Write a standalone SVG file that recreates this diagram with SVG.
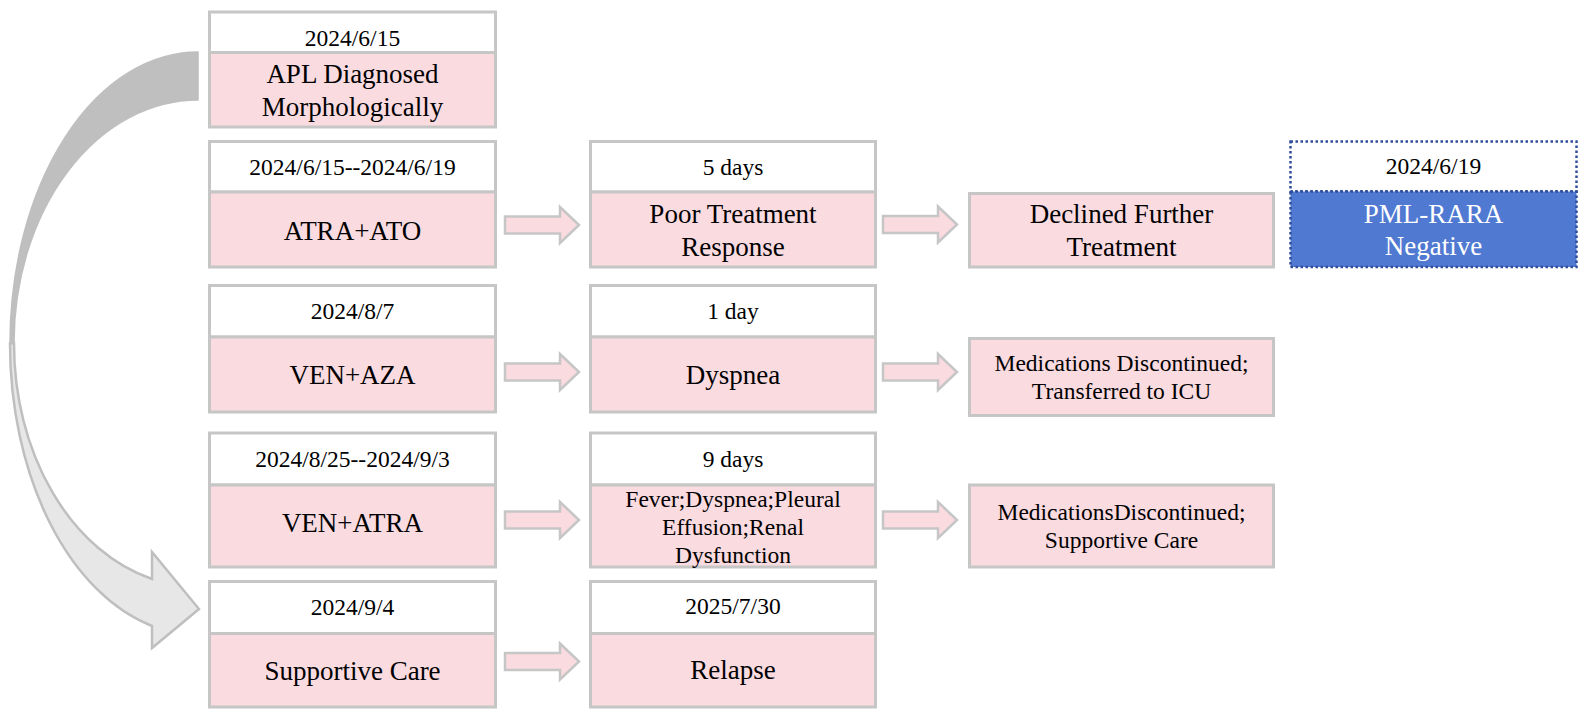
<svg xmlns="http://www.w3.org/2000/svg" width="1590" height="713" viewBox="0 0 1590 713">
<style>
.top{fill:#ffffff;stroke:#c6c6c6;stroke-width:3}
.pk{fill:#fadbe0;stroke:#c6c6c6;stroke-width:3}
.dt{font-family:"Liberation Serif","Times New Roman",serif;font-size:23.5px;fill:#000;text-anchor:middle}
.mn{font-family:"Liberation Serif","Times New Roman",serif;font-size:27px;fill:#000;text-anchor:middle}
.sm{font-family:"Liberation Serif","Times New Roman",serif;font-size:23.5px;fill:#000;text-anchor:middle}
.wt{font-family:"Liberation Serif","Times New Roman",serif;font-size:27px;fill:#ffffff;text-anchor:middle}
.dot{stroke:#2f4d9c;stroke-width:2.5;stroke-dasharray:2.5 2.5}
.arr{fill:#fadbe0;stroke:#c6c6c6;stroke-width:2.5;stroke-linejoin:miter}
</style>
<defs>
<path id="blk" d="M0,-8.5 H55 V-18 L74,0 L55,18 V8.5 H0 Z"/>
</defs>
<rect width="1590" height="713" fill="#ffffff"/>

<g id="connectors">
  <g id="curved-arrow">
    <path d="M198,52 A188 291.4 0 0 0 10,343.4 L14,343 A184 243 0 0 1 198,100 Z" fill="#bfbfbf" stroke="#bfbfbf" stroke-width="1.5"/>
    <path d="M14,343 A184 243 0 0 0 152,579 L152,552 L199,609 L152,648 L152,626 A188 291.4 0 0 1 10,343.4 Z" fill="#e7e7e7" stroke="#bfbfbf" stroke-width="2.5" stroke-linejoin="miter"/>
  </g>
  <use href="#blk" class="arr" x="505" y="225"/>
  <use href="#blk" class="arr" x="883" y="224.5"/>
  <use href="#blk" class="arr" x="505" y="372"/>
  <use href="#blk" class="arr" x="883" y="372"/>
  <use href="#blk" class="arr" x="505" y="520"/>
  <use href="#blk" class="arr" x="883" y="520"/>
  <use href="#blk" class="arr" x="505" y="661.5"/>
</g>

<g id="n-apl">
  <rect class="top" x="209.5" y="12" width="286" height="40.5"/>
  <rect class="pk" x="209.5" y="52.5" width="286" height="74.5"/>
  <text class="dt" x="352.5" y="46">2024/6/15</text>
  <text class="mn" x="352.5" y="83">APL Diagnosed</text>
  <text class="mn" x="352.5" y="116">Morphologically</text>
</g>

<g id="n-atra-ato">
  <rect class="top" x="209.5" y="141.5" width="286" height="50.5"/>
  <rect class="pk" x="209.5" y="192" width="286" height="75"/>
  <text class="dt" x="352.5" y="175">2024/6/15--2024/6/19</text>
  <text class="mn" x="352.5" y="240">ATRA+ATO</text>
</g>

<g id="n-poor-response">
  <rect class="top" x="590.5" y="141.5" width="285" height="50.5"/>
  <rect class="pk" x="590.5" y="192" width="285" height="75"/>
  <text class="dt" x="733" y="175">5 days</text>
  <text class="mn" x="733" y="223">Poor Treatment</text>
  <text class="mn" x="733" y="256">Response</text>
</g>

<g id="n-declined">
  <rect class="pk" x="969.5" y="193.5" width="304" height="73.5"/>
  <text class="mn" x="1121.5" y="223">Declined Further</text>
  <text class="mn" x="1121.5" y="256">Treatment</text>
</g>

<g id="n-pml-rara">
  <rect x="1290.5" y="141.5" width="286" height="50" fill="#ffffff" class="dot"/>
  <rect x="1290.5" y="191.5" width="286" height="75.5" fill="#5079d2" class="dot"/>
  <text class="dt" x="1433.5" y="174">2024/6/19</text>
  <text class="wt" x="1433.5" y="223">PML-RARA</text>
  <text class="wt" x="1433.5" y="255">Negative</text>
</g>

<g id="n-ven-aza">
  <rect class="top" x="209.5" y="285.5" width="286" height="51.5"/>
  <rect class="pk" x="209.5" y="337" width="286" height="75"/>
  <text class="dt" x="352.5" y="319">2024/8/7</text>
  <text class="mn" x="352.5" y="384">VEN+AZA</text>
</g>

<g id="n-dyspnea">
  <rect class="top" x="590.5" y="285.5" width="285" height="51.5"/>
  <rect class="pk" x="590.5" y="337" width="285" height="75"/>
  <text class="dt" x="733" y="319">1 day</text>
  <text class="mn" x="733" y="384">Dyspnea</text>
</g>

<g id="n-icu">
  <rect class="pk" x="969.5" y="338.5" width="304" height="77"/>
  <text class="sm" x="1121.5" y="371">Medications Discontinued;</text>
  <text class="sm" x="1121.5" y="399">Transferred to ICU</text>
</g>

<g id="n-ven-atra">
  <rect class="top" x="209.5" y="433" width="286" height="52"/>
  <rect class="pk" x="209.5" y="485" width="286" height="82"/>
  <text class="dt" x="352.5" y="467">2024/8/25--2024/9/3</text>
  <text class="mn" x="352.5" y="532">VEN+ATRA</text>
</g>

<g id="n-fever">
  <rect class="top" x="590.5" y="433" width="285" height="52"/>
  <rect class="pk" x="590.5" y="485" width="285" height="82"/>
  <text class="dt" x="733" y="467">9 days</text>
  <text class="sm" x="733" y="507">Fever;Dyspnea;Pleural</text>
  <text class="sm" x="733" y="535">Effusion;Renal</text>
  <text class="sm" x="733" y="563">Dysfunction</text>
</g>

<g id="n-supportive-1">
  <rect class="pk" x="969.5" y="485" width="304" height="82"/>
  <text class="sm" x="1121.5" y="520">MedicationsDiscontinued;</text>
  <text class="sm" x="1121.5" y="548">Supportive Care</text>
</g>

<g id="n-supportive-2">
  <rect class="top" x="209.5" y="581.5" width="286" height="52"/>
  <rect class="pk" x="209.5" y="633.5" width="286" height="73.5"/>
  <text class="dt" x="352.5" y="615">2024/9/4</text>
  <text class="mn" x="352.5" y="680">Supportive Care</text>
</g>

<g id="n-relapse">
  <rect class="top" x="590.5" y="581.5" width="285" height="52"/>
  <rect class="pk" x="590.5" y="633.5" width="285" height="73.5"/>
  <text class="dt" x="733" y="614">2025/7/30</text>
  <text class="mn" x="733" y="679">Relapse</text>
</g>
</svg>
